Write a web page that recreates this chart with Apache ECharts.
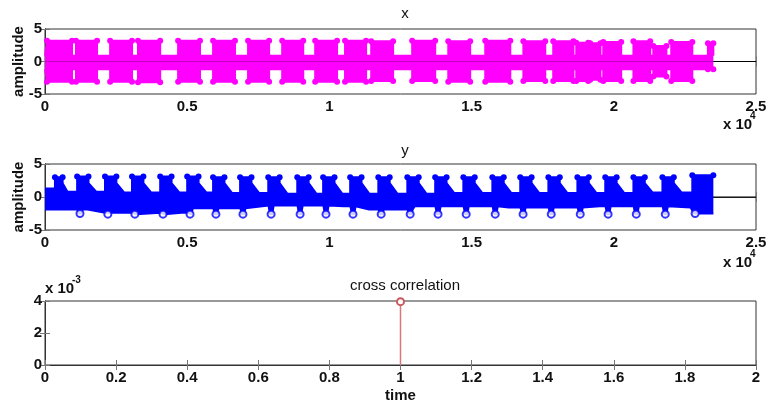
<!DOCTYPE html>
<html>
<head>
<meta charset="utf-8">
<script src="https://cdn.jsdelivr.net/npm/echarts/dist/echarts.min.js"></script>
<style>
  html, body { margin: 0; padding: 0; background: #fff; }
  #chart { width: 768px; height: 403px; }
</style>
</head>
<body>
<div id="chart"></div>
<script>
// signal x: bursts (sample index, amplitude envelope)
const xBurstStart = [70, 1090, 2290, 3270, 4680, 5910, 7140, 8340, 9500, 10550, 11470, 12910, 14180, 15480, 16820, 17870, 18680, 19170, 19630, 20690, 21390, 22020, 23310];
const xBurstEnd = [950, 1830, 3060, 4050, 5450, 6680, 7880, 9080, 10270, 11290, 12240, 13720, 14950, 16360, 17590, 18580, 19100, 19530, 20260, 21280, 21850, 22760, 23500];
const xBurstTop = [3.2, 3.2, 3.2, 3.2, 3.2, 3.2, 3.2, 3.2, 3.2, 3.2, 3.1, 3.2, 3.1, 3.2, 3.1, 3.1, 2.9, 2.8, 3.0, 3.1, 2.4, 3.0, 2.8];
const xBurstBottom = [-3.1, -3.1, -3.1, -3.2, -3.1, -3.1, -3.1, -3.1, -3.1, -3.1, -3.0, -3.0, -3.1, -3.1, -3.0, -3.0, -3.0, -2.8, -3.0, -3.0, -2.3, -3.0, -1.2];
const xQuietTop = 0.9;
const xQuietBottom = -1.2;

// signal y: upward bursts, a sagging lower band and short dips
const yBurstStart = [350, 1130, 2110, 3060, 4050, 5000, 5910, 6860, 7850, 8870, 9780, 10730, 11720, 12740, 13720, 14710, 15730, 16710, 17700, 18720, 19700, 20690, 21710, 22760];
const yPeakEnd = [620, 1530, 2510, 3460, 4450, 5400, 6310, 7260, 8250, 9270, 10180, 11130, 12120, 13140, 14120, 15110, 16130, 17110, 18100, 19120, 20100, 21090, 22110, 23500];
const yBurstEnd = [790, 1800, 2780, 3730, 4720, 5670, 6580, 7530, 8520, 9540, 10450, 11400, 12390, 13410, 14390, 15380, 16400, 17380, 18370, 19390, 20370, 21360, 22380, 23500];
const yBurstTop = [3.0, 3.1, 3.1, 3.1, 3.1, 3.1, 3.0, 3.0, 3.0, 3.0, 3.0, 3.0, 3.0, 3.0, 3.0, 3.0, 3.0, 3.0, 3.0, 3.0, 3.0, 3.0, 3.0, 3.3];
const yQuietTop = [1.3, 0.8, 0.8, 0.7, 0.7, 0.7, 0.7, 0.6, 0.6, 0.5, 0.5, 0.5, 0.5, 0.5, 0.5, 0.6, 0.6, 0.6, 0.6, 0.6, 0.6, 0.6, 0.7, 0.7];
const yShoulder = 2.1;
const yLowerX = [0, 1500, 2200, 4800, 5200, 7900, 10500, 11400, 12500, 13000, 16300, 19500, 22700, 23000, 23500];
const yLowerVal = [-1.9, -1.9, -2.4, -2.4, -1.7, -1.3, -1.4, -1.9, -1.9, -1.4, -1.6, -1.4, -1.6, -2.5, -2.5];
const yDipX = [1230, 2210, 3160, 4150, 5100, 6010, 6960, 7950, 8970, 9880, 10830, 11820, 12840, 13820, 14810, 15830, 16810, 17800, 18820, 19800, 20790, 21810, 22860];
const yDipVal = [-2.5, -2.6, -2.6, -2.6, -2.6, -2.6, -2.6, -2.6, -2.6, -2.6, -2.6, -2.6, -2.6, -2.6, -2.6, -2.6, -2.6, -2.6, -2.6, -2.6, -2.6, -2.6, -2.5];

// cross correlation
const ccLag = [1];
const ccValue = [0.00396];

const xTicksMax = 25000;

const magenta = '#ff00ff';
const blue = '#0000ff';
const stemRed = '#d9787c';
const font = 'Liberation Sans, Arial, sans-serif';
const corner = { symbol: 'circle', symbolSize: 6 };

// envelope outlines built from the burst lists above
function xEnvelope(levels, quiet) {
  const pts = [[0, quiet]];
  xBurstStart.forEach((s, i) => {
    pts.push([s, quiet],
      Object.assign({ value: [s, levels[i]] }, corner),
      Object.assign({ value: [xBurstEnd[i], levels[i]] }, corner),
      [xBurstEnd[i], quiet]);
  });
  return pts;
}

function yUpperEnvelope() {
  const pts = [[0, yQuietTop[0]]];
  yBurstStart.forEach((s, i) => {
    pts.push([s, yQuietTop[i]],
      Object.assign({ value: [s, yBurstTop[i]] }, corner),
      Object.assign({ value: [yPeakEnd[i], yBurstTop[i]] }, corner));
    if (yBurstEnd[i] > yPeakEnd[i]) {
      const next = i + 1 < yQuietTop.length ? yQuietTop[i + 1] : yQuietTop[i];
      pts.push([yPeakEnd[i], yShoulder], [yBurstEnd[i], next]);
    }
  });
  return pts;
}

// lower band with the short dips cut into it (band level taken from the breakpoint before each dip)
function yLowerEnvelope() {
  const pts = yLowerX.map((x, i) => [x, yLowerVal[i]]);
  yDipX.forEach((d, i) => {
    let band = yLowerVal[0];
    yLowerX.forEach((x, k) => { if (x <= d) band = yLowerVal[k]; });
    pts.push([d - 90, band], [d - 40, yDipVal[i]], [d + 40, yDipVal[i]], [d + 90, band]);
  });
  return pts.sort((a, b) => a[0] - b[0]);
}

const yDips = yDipX.map((x, i) => [x, yDipVal[i]]);

const tickStyle = { inside: true, length: 5, lineStyle: { color: '#777' } };
const labelStyle = { color: '#111', fontSize: 15, fontWeight: 'bold', fontFamily: font };

function bottomAxis(gridIndex, extra) {
  return Object.assign({
    type: 'value', gridIndex, position: 'bottom',
    axisLine: { lineStyle: { color: '#333' } },
    axisTick: tickStyle, splitLine: { show: false },
    axisLabel: Object.assign({ margin: 5 }, labelStyle)
  }, extra);
}
function topAxis(gridIndex, extra) {
  return Object.assign({
    type: 'value', gridIndex, position: 'top',
    axisLine: { lineStyle: { color: '#333' } },
    axisTick: tickStyle, splitLine: { show: false },
    axisLabel: { show: false }
  }, extra);
}
function leftAxis(gridIndex, extra) {
  return Object.assign({
    type: 'value', gridIndex, position: 'left',
    axisLine: { show: true, lineStyle: { color: '#333' } },
    axisTick: Object.assign({ show: true }, tickStyle), splitLine: { show: false },
    axisLabel: Object.assign({ margin: 3 }, labelStyle),
    nameTextStyle: labelStyle
  }, extra);
}
function rightAxis(gridIndex, extra) {
  return Object.assign({
    type: 'value', gridIndex, position: 'right',
    axisLine: { show: true, lineStyle: { color: '#333' } },
    axisTick: Object.assign({ show: true }, tickStyle), splitLine: { show: false },
    axisLabel: { show: false }
  }, extra);
}

const sigX = { min: 0, max: xTicksMax, interval: 5000 };
const sigXLabels = { axisLabel: Object.assign({ margin: 5, formatter: v => String(v / 10000) }, labelStyle) };
const sigY = { min: -5, max: 5, interval: 5 };
const ampName = { name: 'amplitude', nameLocation: 'middle', nameRotate: 90, nameGap: 19, nameMoveOverlap: false };
const ccX = { min: 0, max: 2, interval: 0.2 };
const ccY = { min: 0, max: 0.004, interval: 0.002 };

function area(name, data, color, xi, yi) {
  return {
    name, type: 'line', xAxisIndex: xi, yAxisIndex: yi, data,
    symbol: 'none', showSymbol: true, showAllSymbol: true, z: 3,
    itemStyle: { color },
    lineStyle: { color, width: 2, join: 'round' },
    areaStyle: { color, opacity: 1 }
  };
}
function baseline(xi, yi) {
  return {
    type: 'line', xAxisIndex: xi, yAxisIndex: yi, data: [[0, 0], [xTicksMax, 0]],
    symbol: 'none', z: 2, silent: true, lineStyle: { color: '#000', width: 1 }
  };
}

const gridBase = { left: 45, right: 12, show: true, borderColor: '#333', borderWidth: 1, containLabel: false, outerBoundsMode: 'none' };

const chart = echarts.init(document.getElementById('chart'));
chart.setOption({
  animation: false,
  backgroundColor: '#fff',
  textStyle: { fontFamily: font },
  title: [
    { text: 'x', left: 400, top: 1, textAlign: 'center', textStyle: { fontSize: 15, fontWeight: 'normal', color: '#111', fontFamily: font } },
    { text: 'y', left: 400, top: 138, textAlign: 'center', textStyle: { fontSize: 15, fontWeight: 'normal', color: '#111', fontFamily: font } },
    { text: 'cross correlation', left: 400, top: 273, textAlign: 'center', textStyle: { fontSize: 15, fontWeight: 'normal', color: '#111', fontFamily: font } }
  ],
  grid: [
    Object.assign({ top: 29, height: 65 }, gridBase),
    Object.assign({ top: 164, height: 66 }, gridBase),
    Object.assign({ top: 301, height: 64 }, gridBase)
  ],
  xAxis: [
    bottomAxis(0, Object.assign({}, sigX, sigXLabels)),
    topAxis(0, sigX),
    bottomAxis(1, Object.assign({}, sigX, sigXLabels)),
    topAxis(1, sigX),
    bottomAxis(2, Object.assign({ name: 'time', nameLocation: 'middle', nameGap: 23, nameMoveOverlap: false, nameTextStyle: labelStyle }, ccX)),
    topAxis(2, ccX)
  ],
  yAxis: [
    leftAxis(0, Object.assign({}, sigY, ampName)),
    rightAxis(0, sigY),
    leftAxis(1, Object.assign({}, sigY, ampName)),
    rightAxis(1, sigY),
    leftAxis(2, Object.assign({}, ccY, { axisLabel: Object.assign({ margin: 3, formatter: v => String(Math.round(v * 1000)) }, labelStyle) })),
    rightAxis(2, ccY)
  ],
  graphic: [
    { type: 'text', left: 723, top: 117, style: { text: 'x 10', font: 'bold 15px ' + font, fill: '#111' } },
    { type: 'text', left: 750, top: 111, style: { text: '4', font: 'bold 10px ' + font, fill: '#111' } },
    { type: 'text', left: 723, top: 255, style: { text: 'x 10', font: 'bold 15px ' + font, fill: '#111' } },
    { type: 'text', left: 750, top: 249, style: { text: '4', font: 'bold 10px ' + font, fill: '#111' } },
    { type: 'text', left: 45, top: 281, style: { text: 'x 10', font: 'bold 15px ' + font, fill: '#111' } },
    { type: 'text', left: 72, top: 275, style: { text: '-3', font: 'bold 10px ' + font, fill: '#111' } }
  ],
  series: [
    baseline(0, 0),
    area('x upper', xEnvelope(xBurstTop, xQuietTop), magenta, 0, 0),
    area('x lower', xEnvelope(xBurstBottom, xQuietBottom), magenta, 0, 0),
    baseline(2, 2),
    area('y upper', yUpperEnvelope(), blue, 2, 2),
    area('y lower', yLowerEnvelope(), blue, 2, 2),
    {
      name: 'y dip marks', type: 'scatter', xAxisIndex: 2, yAxisIndex: 2, data: yDips,
      symbol: 'emptyCircle', symbolSize: 7, z: 4,
      itemStyle: { color: blue, borderColor: blue, borderWidth: 1 }
    },
    {
      name: 'cross correlation', type: 'line', xAxisIndex: 4, yAxisIndex: 4,
      data: ccLag.flatMap((lag, i) => [
        { value: [lag, 0], symbol: 'none' },
        { value: [lag, ccValue[i]], symbol: 'emptyCircle', symbolSize: 7 }
      ]),
      z: 3,
      lineStyle: { color: stemRed, width: 1.5 },
      itemStyle: { color: '#c85a5e', borderColor: '#c85a5e', borderWidth: 1 }
    }
  ]
});
</script>
</body>
</html>
